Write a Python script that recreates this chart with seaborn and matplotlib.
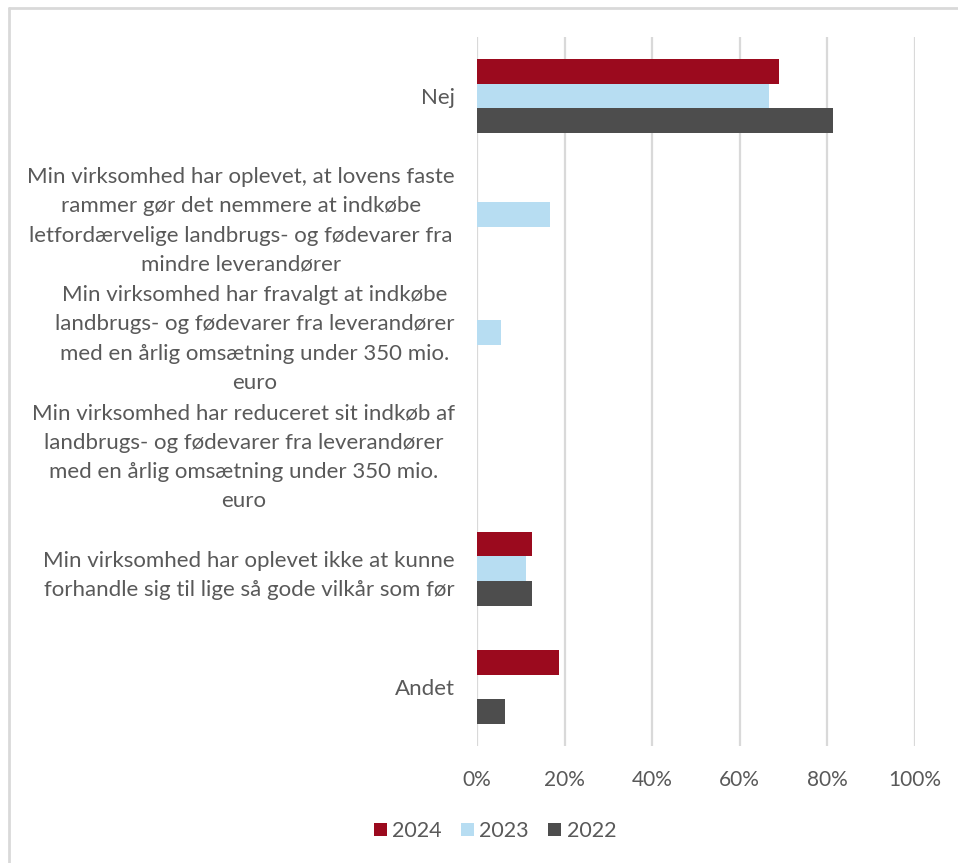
import matplotlib
matplotlib.use("Agg")
import matplotlib.pyplot as plt
import seaborn as sns
import pandas as pd
from matplotlib.lines import Line2D
from matplotlib.patches import Patch

categories = [
    "Nej",
    "Min virksomhed har oplevet, at lovens faste\nrammer gør det nemmere at indkøbe\nletfordærvelige landbrugs- og fødevarer fra\nmindre leverandører",
    "Min virksomhed har fravalgt at indkøbe\nlandbrugs- og fødevarer fra leverandører\nmed en årlig omsætning under 350 mio.\neuro",
    "Min virksomhed har reduceret sit indkøb af\nlandbrugs- og fødevarer fra leverandører\nmed en årlig omsætning under 350 mio.\neuro",
    "Min virksomhed har oplevet ikke at kunne\nforhandle sig til lige så gode vilkår som før",
    "Andet",
]
years = ["2024", "2023", "2022"]
values_2024 = [0.69, 0.0, 0.0, 0.0, 0.126, 0.187]
values_2023 = [0.667, 0.167, 0.055, 0.0, 0.111, 0.0]
values_2022 = [0.813, 0.0, 0.0, 0.0, 0.126, 0.065]
colors = ["#9B0A1E", "#B7DDF2", "#4D4D4D"]
xticks = [0, 0.2, 0.4, 0.6, 0.8, 1.0]
xtick_labels = ["0%", "20%", "40%", "60%", "80%", "100%"]

rows = []
for yr, vals in zip(years, [values_2024, values_2023, values_2022]):
    for c, v in zip(categories, vals):
        rows.append({"category": c, "year": yr, "value": v})
df = pd.DataFrame(rows)

sns.set_theme(style="white")
plt.rcParams["font.family"] = ["Lato", "DejaVu Sans"]
text_color = "#595959"

fig = plt.figure(figsize=(9.58, 8.63), dpi=100)
ax = fig.add_axes([477 / 958, 1 - 746 / 863, (915 - 477) / 958, (746 - 37) / 863])

sns.barplot(data=df, y="category", x="value", hue="year", order=categories,
            hue_order=years, palette=colors, orient="h", width=0.627,
            dodge=True, gap=0, saturation=1, ax=ax, legend=False, linewidth=0)

ax.set_xlim(0, 1.0)
ax.set_xticks(xticks)
ax.set_xticklabels(xtick_labels)
ax.xaxis.grid(True, color="#d9d9d9", linewidth=1.6)
ax.yaxis.grid(False)
ax.set_axisbelow(True)
for s in ["top", "right", "bottom", "left"]:
    ax.spines[s].set_visible(False)
ax.set_xlabel("")
ax.set_ylabel("")
ax.tick_params(axis="x", length=0, pad=17, labelsize=15, labelcolor=text_color)
ax.tick_params(axis="y", length=0, pad=16, labelsize=16, labelcolor=text_color)
for lbl in ax.get_yticklabels():
    lbl.set_multialignment("center")
    lbl.set_linespacing(1.58)

handles = [Patch(facecolor=c, edgecolor="none") for c in colors]
fig.legend(handles, years, loc="center", bbox_to_anchor=(495 / 958, 1 - 831 / 863),
           ncol=3, frameon=False, fontsize=15.5, handlelength=0.6, handleheight=0.6,
           handletextpad=0.25, columnspacing=0.9, labelcolor=text_color)

# light border on top and left (as in the reference)
fig.add_artist(Line2D([9 / 958, 1.0], [1 - 8 / 863, 1 - 8 / 863], color="#d9d9d9",
                      lw=2, transform=fig.transFigure))
fig.add_artist(Line2D([9 / 958, 9 / 958], [0, 1 - 8 / 863], color="#d9d9d9",
                      lw=2, transform=fig.transFigure))

fig.savefig("out.png", dpi=100)
